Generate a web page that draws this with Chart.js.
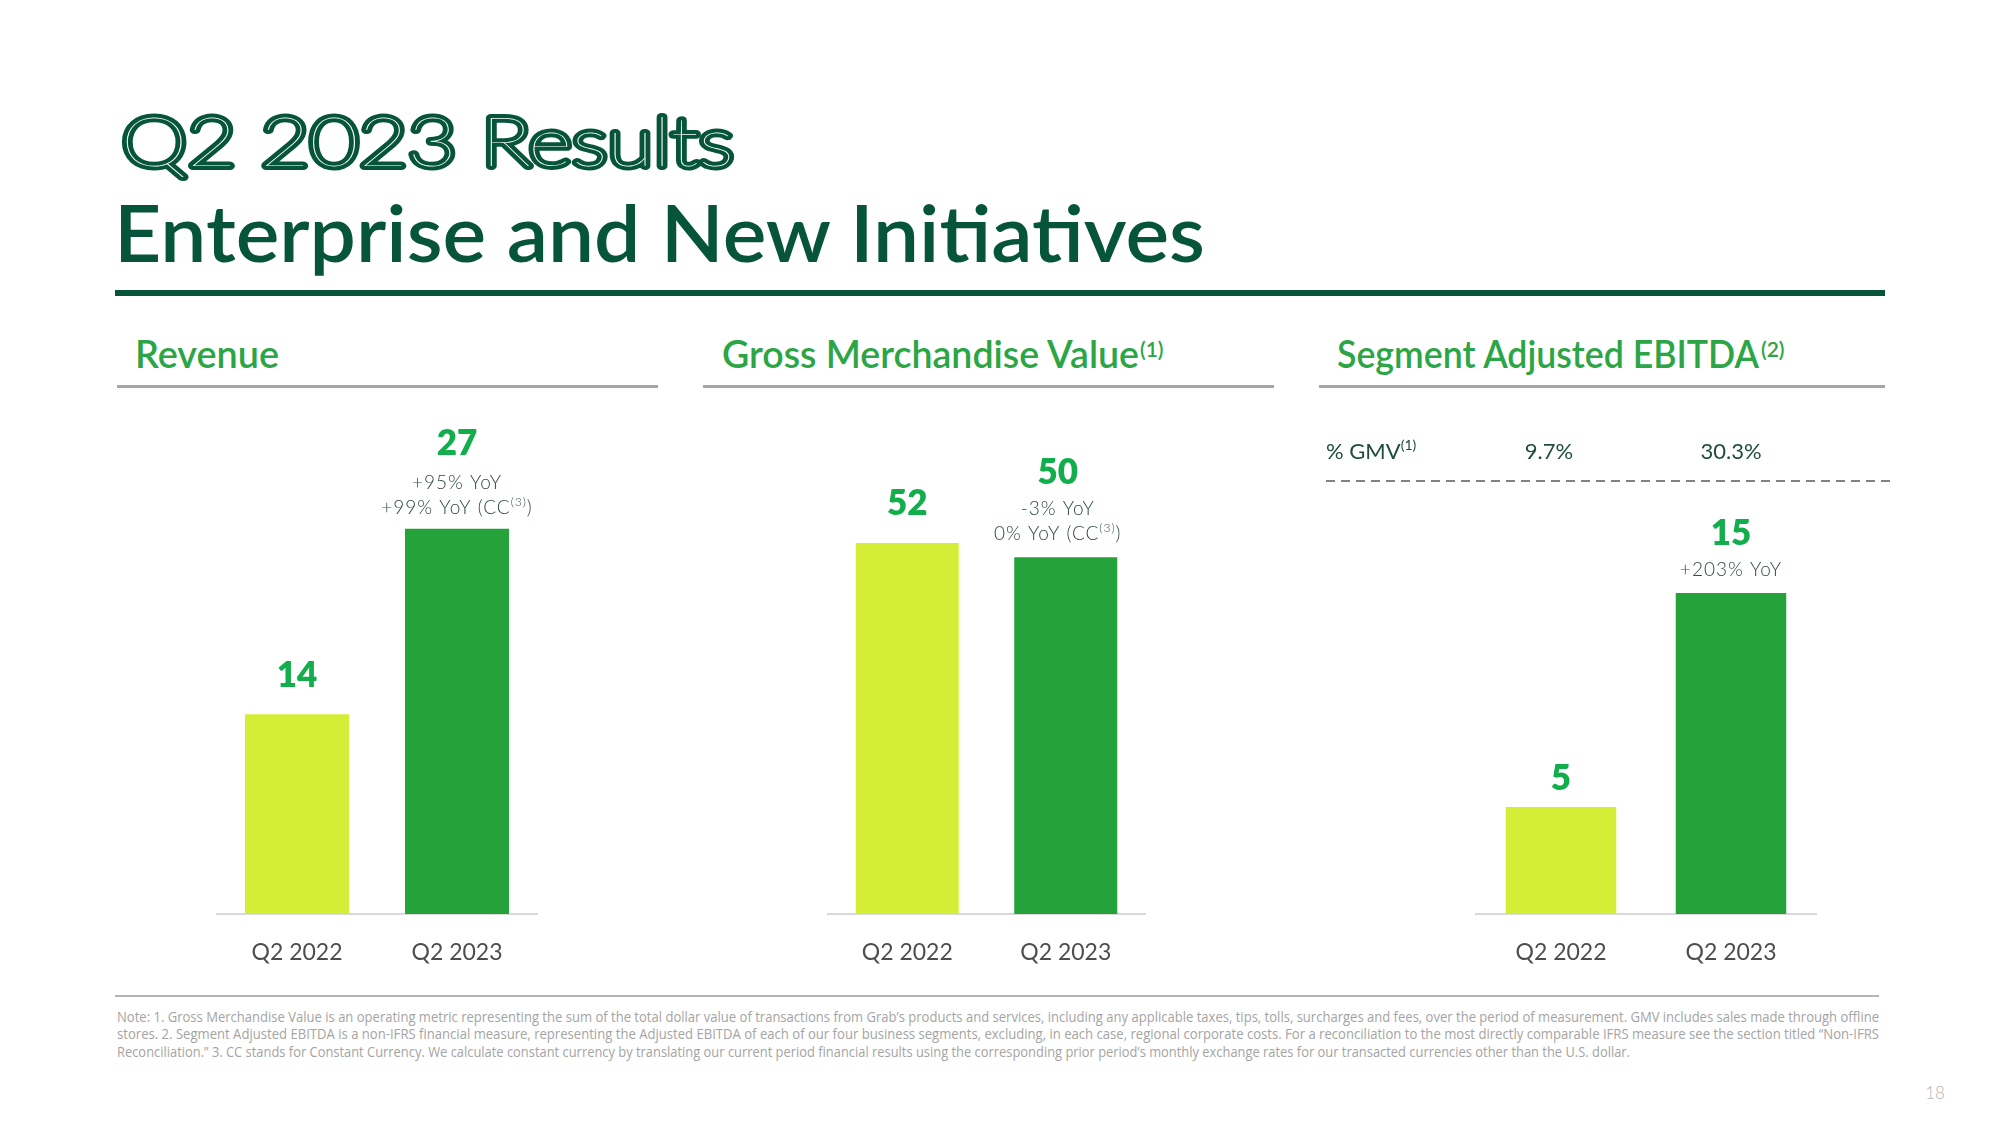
<!DOCTYPE html>
<html>
<head>
<meta charset="utf-8">
<script src="https://cdn.jsdelivr.net/npm/chart.js@4.4.0/dist/chart.umd.min.js"></script>
<style>
  html, body { margin: 0; padding: 0; background: #ffffff; width: 2000px; height: 1125px; overflow: hidden; }
  #page { position: absolute; left: 0; top: 0; width: 2000px; height: 1125px; }
  svg#deco { position: absolute; left: 0; top: 0; }
  canvas { position: absolute; }
</style>
</head>
<body>
<div id="page">
<svg id="deco" width="2000" height="1125" viewBox="0 0 2000 1125" xmlns="http://www.w3.org/2000/svg">
  <!-- Titles -->
  <text x="121" y="166" font-family="'Lato Hairline', 'Lato Thin', Lato" font-weight="100" font-size="69" fill="#ffffff" stroke="#06553a" stroke-width="8" stroke-linejoin="round" paint-order="stroke" textLength="613" lengthAdjust="spacingAndGlyphs">Q2 2023 Results</text>
  <text x="114" y="262" font-family="Lato" font-weight="600" font-size="78" fill="#06553a" textLength="1091" lengthAdjust="spacingAndGlyphs">Enterprise and New Initiatives</text>
  <rect x="115" y="290" width="1770" height="6" fill="#06553a"/>

  <!-- Section headers -->
  <text x="135" y="368" font-family="Lato" font-weight="600" font-size="38" fill="#2ba545" textLength="144" lengthAdjust="spacingAndGlyphs">Revenue</text>
  <rect x="117" y="385" width="541" height="3" fill="#a6a6a6"/>

  <text x="722" y="368" font-family="Lato" font-weight="600" font-size="38" fill="#2ba545" textLength="417" lengthAdjust="spacingAndGlyphs">Gross Merchandise Value</text>
  <text x="1140" y="357" font-family="Lato" font-weight="600" font-size="21" fill="#2ba545">(1)</text>
  <rect x="703" y="385" width="571" height="3" fill="#a6a6a6"/>

  <text x="1337" y="368" font-family="Lato" font-weight="600" font-size="38" fill="#2ba545" textLength="422" lengthAdjust="spacingAndGlyphs">Segment Adjusted EBITDA</text>
  <text x="1761" y="357" font-family="Lato" font-weight="600" font-size="21" fill="#2ba545">(2)</text>
  <rect x="1319" y="385" width="566" height="3" fill="#a6a6a6"/>

  <!-- Footnote -->
  <rect x="115" y="995" width="1764" height="2" fill="#b5b5b5"/>
  <g font-family="Open Sans" font-size="14" fill="#a4a4a4">
    <text x="117" y="1022" textLength="1762" lengthAdjust="spacingAndGlyphs">Note: 1. Gross Merchandise Value is an operating metric representing the sum of the total dollar value of transactions from Grab’s products and services, including any applicable taxes, tips, tolls, surcharges and fees, over the period of measurement. GMV includes sales made through offline</text>
    <text x="117" y="1039" textLength="1762" lengthAdjust="spacingAndGlyphs">stores. 2. Segment Adjusted EBITDA is a non-IFRS financial measure, representing the Adjusted EBITDA of each of our four business segments, excluding, in each case, regional corporate costs. For a reconciliation to the most directly comparable IFRS measure see the section titled “Non-IFRS</text>
    <text x="117" y="1057" textLength="1513" lengthAdjust="spacingAndGlyphs">Reconciliation.” 3. CC stands for Constant Currency. We calculate constant currency by translating our current period financial results using the corresponding prior period’s monthly exchange rates for our transacted currencies other than the U.S. dollar.</text>
  </g>
  <text x="1935" y="1099" text-anchor="middle" font-family="Lato" font-weight="300" font-size="17" fill="#b5b5b5">18</text>
</svg>

<canvas id="revChart" width="460" height="580" style="left:140px; top:400px; width:460px; height:580px;"></canvas>
<canvas id="gmvChart" width="460" height="580" style="left:760px; top:400px; width:460px; height:580px;"></canvas>
<canvas id="ebitdaChart" width="600" height="580" style="left:1300px; top:400px; width:600px; height:580px;"></canvas>
</div>

<script>
// ---------------- DATA ----------------
const categories = ['Q2 2022', 'Q2 2023'];

const revenueValues = [14, 27];
const gmvValues = [52, 50];
const ebitdaValues = [5, 15];

// annotation lines under each value label ( ^...^ marks a superscript )
const revenueNotes = [[], ['+95% YoY', '+99% YoY (CC^(3)^)']];
const gmvNotes = [[], ['-3% YoY', '0% YoY (CC^(3)^)']];
const ebitdaNotes = [[], ['+203% YoY']];

const ebitdaPctGmvTitle = '% GMV^(1)^';
const ebitdaPctGmv = ['9.7%', '30.3%'];

// value-axis maxima (tick ranges) for the three panels
const revenueAxisMax = 30;
const gmvAxisMax = 60;
const ebitdaAxisMax = 20;

// ---------------- STYLE ----------------
const BAR_COLORS = ['#d4ee38', '#26a23a'];
const VALUE_COLOR = '#12ae4c';
const NOTE_COLOR = '#2f4a40';
const PCT_COLOR = '#1f4d3c';

function drawRich(ctx, str, x, baseline, size, weight, family, align, supScale, supRise) {
  const parts = str.split('^');
  const segs = [];
  let total = 0;
  parts.forEach((p, i) => {
    if (!p) return;
    const sup = i % 2 === 1;
    const fs = sup ? Math.round(size * supScale) : size;
    ctx.font = `${weight} ${fs}px ${family}`;
    const w = ctx.measureText(p).width;
    segs.push({ p, sup, fs, w });
    total += w;
  });
  let cx = align === 'center' ? x - total / 2 : x;
  ctx.textAlign = 'left';
  segs.forEach(s => {
    ctx.font = `${weight} ${s.fs}px ${family}`;
    ctx.fillText(s.p, cx, s.sup ? baseline - size * supRise : baseline);
    cx += s.w;
  });
}

const barLabelPlugin = {
  id: 'barLabels',
  afterDatasetsDraw(chart, args, opts) {
    const ctx = chart.ctx;
    const meta = chart.getDatasetMeta(0);
    const values = chart.data.datasets[0].data;
    ctx.save();
    ctx.textBaseline = 'alphabetic';
    meta.data.forEach((bar, i) => {
      const notes = opts.notes[i] || [];
      const x = bar.x + ((opts.labelDx && opts.labelDx[i]) || 0);
      const top = bar.y;
      ctx.fillStyle = NOTE_COLOR;
      ctx.letterSpacing = '1px';
      let c = top - opts.noteGap;
      let topNote = null;
      for (let k = notes.length - 1; k >= 0; k--) {
        drawRich(ctx, notes[k], x, c + 0.36 * 19, 19, 300, 'Lato', 'center', 0.62, 0.42);
        topNote = c;
        c -= opts.noteStep;
      }
      const vc = topNote !== null ? topNote - opts.valueAboveNotes : top - opts.soloGap;
      ctx.letterSpacing = '0px';
      ctx.fillStyle = VALUE_COLOR;
      ctx.font = '800 35px Lato';
      ctx.textAlign = 'center';
      ctx.fillText(String(values[i]), x, vc + 0.36 * 35);
    });
    if (opts.pct) {
      const p = opts.pct;
      ctx.fillStyle = PCT_COLOR;
      ctx.letterSpacing = '0px';
      drawRich(ctx, p.title, p.x, p.y + 0.36 * 22, 22, 400, 'Lato', 'left', 0.62, 0.4);
      meta.data.forEach((bar, i) => {
        drawRich(ctx, p.labels[i], bar.x + (p.dx[i] || 0), p.y + 0.36 * 22, 22, 400, 'Lato', 'center', 0.62, 0.4);
      });
      ctx.strokeStyle = '#5a5a5a';
      ctx.lineWidth = 1.6;
      ctx.setLineDash([9, 6]);
      ctx.beginPath();
      ctx.moveTo(p.x, p.lineY);
      ctx.lineTo(p.lineX2, p.lineY);
      ctx.stroke();
    }
    ctx.restore();
  }
};

function makeChart(id, values, axisMax, layoutPad, labelOpts) {
  return new Chart(document.getElementById(id), {
    type: 'bar',
    data: {
      labels: categories,
      datasets: [{
        data: values,
        backgroundColor: BAR_COLORS,
        borderWidth: 0,
        barPercentage: 0.65,
        categoryPercentage: 1.0
      }]
    },
    options: {
      responsive: false,
      animation: false,
      devicePixelRatio: 1,
      layout: { padding: layoutPad },
      plugins: {
        legend: { display: false },
        tooltip: { enabled: false },
        barLabels: labelOpts
      },
      scales: {
        x: {
          grid: { display: false },
          border: { display: true, color: '#d9d9d9', width: 2 },
          ticks: { color: '#4d4d4d', font: { family: 'Lato', size: 23, weight: '400' }, padding: 17 },
          afterFit(scale) { scale.height = 66; }
        },
        y: {
          display: false,
          min: 0,
          max: axisMax
        }
      }
    },
    plugins: [barLabelPlugin]
  });
}

makeChart('revChart', revenueValues, revenueAxisMax,
  { left: 77, right: 63, top: 86, bottom: 0 },
  { notes: revenueNotes, noteGap: 22, noteStep: 25, valueAboveNotes: 39, soloGap: 40 });

makeChart('gmvChart', gmvValues, gmvAxisMax,
  { left: 68, right: 75, top: 86, bottom: 0 },
  { notes: gmvNotes, noteGap: 24, noteStep: 25, valueAboveNotes: 37, soloGap: 41, labelDx: [0, -8] });

makeChart('ebitdaChart', ebitdaValues, ebitdaAxisMax,
  { left: 176, right: 84, top: 86, bottom: 0 },
  { notes: ebitdaNotes, noteGap: 24, noteStep: 25, valueAboveNotes: 37, soloGap: 30,
    pct: { title: ebitdaPctGmvTitle, labels: ebitdaPctGmv, dx: [-12, 0], x: 26, y: 51, lineY: 81, lineX2: 592 } });
</script>
</body>
</html>
